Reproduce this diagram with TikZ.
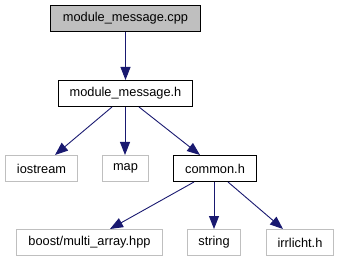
\documentclass[tikz,border=0pt]{standalone}
\usepackage{fontspec}
\setmainfont{Liberation Sans}
\usetikzlibrary{arrows.meta}
\definecolor{edgeblue}{HTML}{191970}
\definecolor{boxgray}{HTML}{BFBFBF}
\begin{document}
\begin{tikzpicture}[x=1pt,y=-1pt,
  file/.style={draw=black,line width=1pt,fill=white,inner sep=0pt,font=\fontsize{12.8}{14}\selectfont,anchor=north west},
  sysfile/.style={draw=boxgray,line width=1pt,fill=white,inner sep=0pt,font=\fontsize{12.8}{14}\selectfont,anchor=north west},
  dep/.style={draw=edgeblue,line width=0.9pt,-{Triangle[length=13pt,width=10pt]}}]
\useasboundingbox (0,0) rectangle (339,261);
% source file
\node[file,fill=boxgray,minimum width=150pt,minimum height=26pt] (cpp) at (50,5) {module\_message.cpp};
% header
\node[file,minimum width=134pt,minimum height=26pt] (hdr) at (58,80) {module\_message.h};
% second level
\node[sysfile,minimum width=72pt,minimum height=26pt] (ios) at (5,155) {iostream};
\node[sysfile,minimum width=46pt,minimum height=26pt] (map) at (102,155) {map};
\node[file,minimum width=83pt,minimum height=26pt] (com) at (173,155) {common.h};
% third level
\node[sysfile,minimum width=146pt,minimum height=26pt] (boost) at (16,229) {boost/multi\_array.hpp};
\node[sysfile,minimum width=53pt,minimum height=26pt] (str) at (187,229) {string};
\node[sysfile,minimum width=67pt,minimum height=26pt] (irr) at (266,229) {irrlicht.h};
% dependencies
\draw[dep] (cpp.south) -- (hdr.north);
\draw[dep] (hdr.south -| 112,0) -- (ios.north -| 55,0);
\draw[dep] (hdr.south -| 125,0) -- (map.north -| 125,0);
\draw[dep] (hdr.south -| 139,0) -- (com.north -| 200,0);
\draw[dep] (com.south -| 194,0) -- (boost.north -| 110,0);
\draw[dep] (com.south -| 214,0) -- (str.north -| 214,0);
\draw[dep] (com.south -| 228,0) -- (irr.north -| 283,0);
\end{tikzpicture}
\end{document}
